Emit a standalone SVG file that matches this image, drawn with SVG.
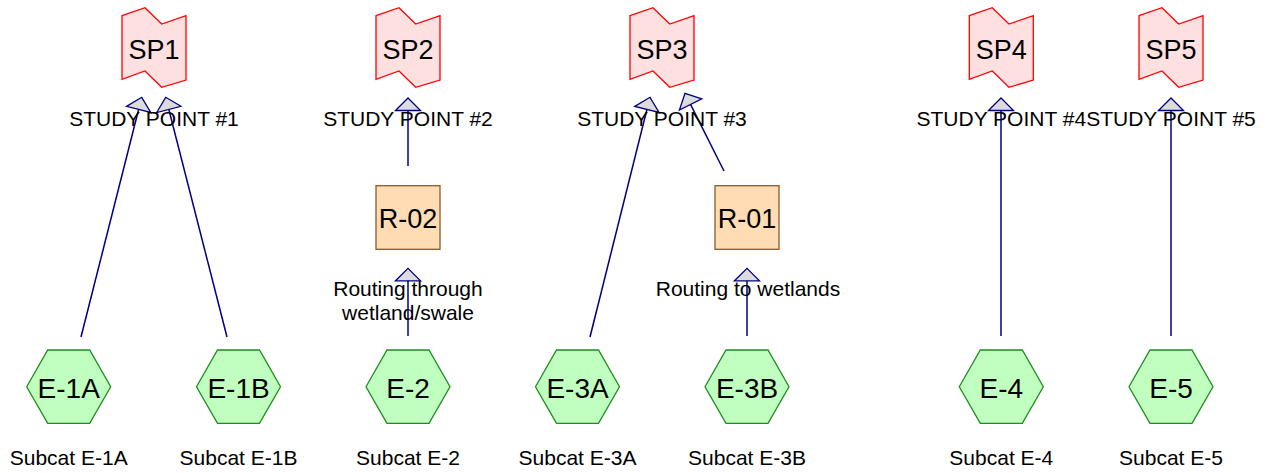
<svg xmlns="http://www.w3.org/2000/svg" width="1270" height="473" viewBox="0 0 1270 473">
  <style>
    .sp { fill: #ffe0e0; stroke: #ff0000; stroke-width: 1.3; }
    .sub { fill: #c0ffc0; stroke: #1e8c1e; stroke-width: 1.3; }
    .reach { fill: #ffdcb4; stroke: #8b5a2b; stroke-width: 1.3; }
    .link { stroke: #000080; stroke-width: 1.5; fill: none; marker-end: url(#head); }
    .big { font-family: "Liberation Sans", Arial, sans-serif; font-size: 27px; fill: #000; text-anchor: middle; }
    .hexlbl { font-family: "Liberation Sans", Arial, sans-serif; font-size: 28px; fill: #000; text-anchor: middle; }
    .lbl { font-family: "Liberation Sans", Arial, sans-serif; font-size: 21px; fill: #000; text-anchor: middle; }
  </style>
  <defs>
    <marker id="head" markerUnits="userSpaceOnUse" markerWidth="30" markerHeight="30" refX="12.5" refY="0" orient="auto" overflow="visible">
      <path d="M0,-12.5 L12.5,0 L0,12.5 Z" fill="#dcdcdc" stroke="#000080" stroke-width="1.3" stroke-linejoin="miter"/>
    </marker>
    <!-- study point outline, centred on x = 0 -->
    <path id="spShape" d="M-32,15.7 L-9,7.7 L7.7,24 L32,15.7 L32,80 L7.7,87.3 L-9,71 L-32,79.3 Z"/>
    <!-- subcatchment hexagon, centred on (0,0) -->
    <polygon id="hexShape" points="-42,0 -21,-36.7 21,-36.7 42,0 21,36.7 -21,36.7"/>
  </defs>

  <g id="connectors">
    <line class="link" x1="81" y1="337" x2="141.7" y2="97.3"/>
    <line class="link" x1="227" y1="337" x2="165.7" y2="97.3"/>
    <line class="link" x1="408" y1="336" x2="408" y2="268.3"/>
    <line class="link" x1="408" y1="166" x2="408" y2="98"/>
    <line class="link" x1="590" y1="337" x2="650" y2="97.3"/>
    <line class="link" x1="724" y1="171" x2="685" y2="93.3"/>
    <line class="link" x1="747" y1="336" x2="747" y2="268.3"/>
    <line class="link" x1="1001" y1="336" x2="1001" y2="98"/>
    <line class="link" x1="1171" y1="336" x2="1171" y2="98"/>
  </g>

  <g id="SP1">
    <use href="#spShape" class="sp" x="154"/>
    <text class="big" x="154" y="58.5">SP1</text>
    <text class="lbl" x="154" y="126">STUDY POINT #1</text>
  </g>
  <g id="SP2">
    <use href="#spShape" class="sp" x="408"/>
    <text class="big" x="408" y="58.5">SP2</text>
    <text class="lbl" x="408" y="126">STUDY POINT #2</text>
  </g>
  <g id="SP3">
    <use href="#spShape" class="sp" x="662"/>
    <text class="big" x="662" y="58.5">SP3</text>
    <text class="lbl" x="662" y="126">STUDY POINT #3</text>
  </g>
  <g id="SP4">
    <use href="#spShape" class="sp" x="1001.3"/>
    <text class="big" x="1001.3" y="58.5">SP4</text>
    <text class="lbl" x="1001.3" y="126">STUDY POINT #4</text>
  </g>
  <g id="SP5">
    <use href="#spShape" class="sp" x="1171"/>
    <text class="big" x="1171" y="58.5">SP5</text>
    <text class="lbl" x="1171" y="126">STUDY POINT #5</text>
  </g>

  <g id="R-02">
    <rect class="reach" x="376" y="185.7" width="64" height="63.6"/>
    <text class="big" x="408" y="228.3">R-02</text>
    <text class="lbl" x="408" y="296">Routing through</text>
    <text class="lbl" x="408" y="320">wetland/swale</text>
  </g>
  <g id="R-01">
    <rect class="reach" x="715" y="185.7" width="64" height="63.6"/>
    <text class="big" x="747" y="228.3">R-01</text>
    <text class="lbl" x="748" y="296">Routing to wetlands</text>
  </g>

  <g id="E-1A">
    <use href="#hexShape" class="sub" x="68.7" y="386.7"/>
    <text class="hexlbl" x="68.7" y="398.3">E-1A</text>
    <text class="lbl" x="68.7" y="465">Subcat E-1A</text>
  </g>
  <g id="E-1B">
    <use href="#hexShape" class="sub" x="238.5" y="386.7"/>
    <text class="hexlbl" x="238.5" y="398.3">E-1B</text>
    <text class="lbl" x="238.5" y="465">Subcat E-1B</text>
  </g>
  <g id="E-2">
    <use href="#hexShape" class="sub" x="408" y="386.7"/>
    <text class="hexlbl" x="408" y="398.3">E-2</text>
    <text class="lbl" x="408" y="465">Subcat E-2</text>
  </g>
  <g id="E-3A">
    <use href="#hexShape" class="sub" x="577.5" y="386.7"/>
    <text class="hexlbl" x="577.5" y="398.3">E-3A</text>
    <text class="lbl" x="577.5" y="465">Subcat E-3A</text>
  </g>
  <g id="E-3B">
    <use href="#hexShape" class="sub" x="747" y="386.7"/>
    <text class="hexlbl" x="747" y="398.3">E-3B</text>
    <text class="lbl" x="747" y="465">Subcat E-3B</text>
  </g>
  <g id="E-4">
    <use href="#hexShape" class="sub" x="1001.3" y="386.7"/>
    <text class="hexlbl" x="1001.3" y="398.3">E-4</text>
    <text class="lbl" x="1001.3" y="465">Subcat E-4</text>
  </g>
  <g id="E-5">
    <use href="#hexShape" class="sub" x="1171" y="386.7"/>
    <text class="hexlbl" x="1171" y="398.3">E-5</text>
    <text class="lbl" x="1171" y="465">Subcat E-5</text>
  </g>
</svg>
